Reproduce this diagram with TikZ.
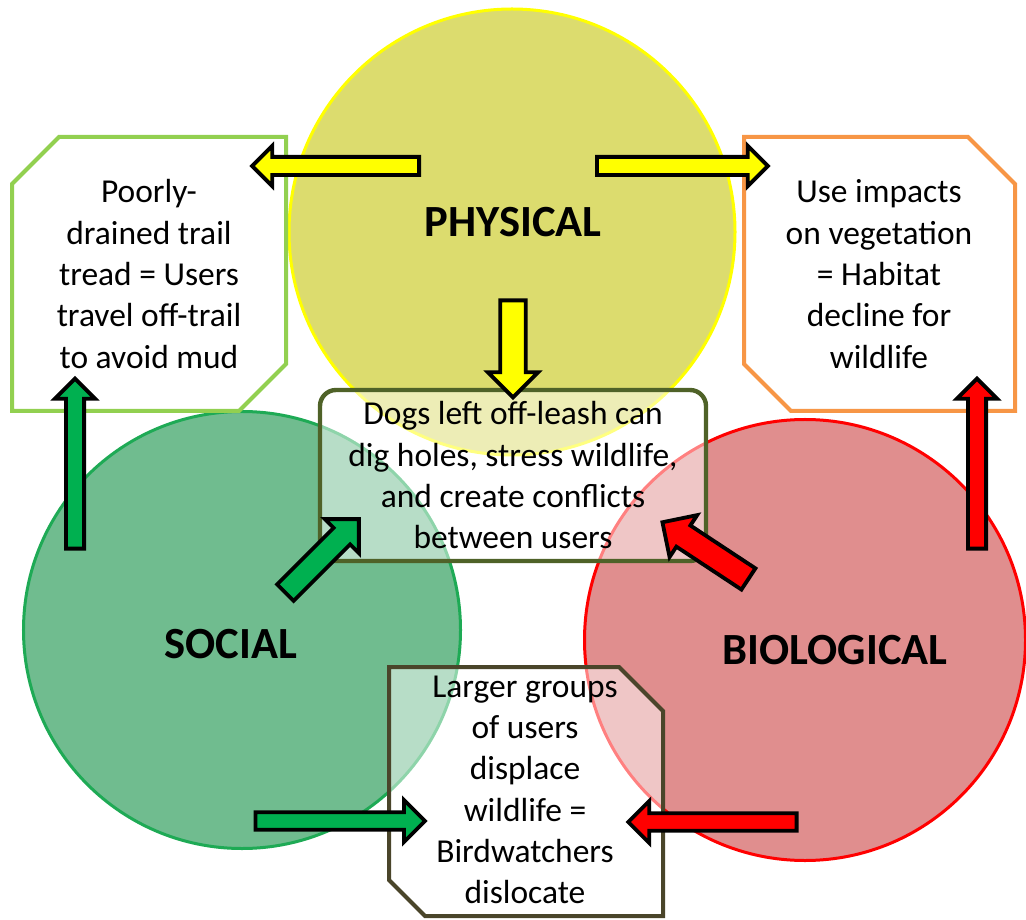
\documentclass[tikz,border=0pt]{standalone}
\usepackage{fontspec}
\setmainfont{Carlito}
\usetikzlibrary{shapes.arrows}

\definecolor{physfill}{RGB}{220,220,110}
\definecolor{physline}{RGB}{255,255,0}
\definecolor{socfill}{RGB}{112,188,143}
\definecolor{socline}{RGB}{30,170,85}
\definecolor{biofill}{RGB}{224,142,142}
\definecolor{bioline}{RGB}{255,0,0}
\definecolor{leftline}{RGB}{146,208,80}
\definecolor{rightline}{RGB}{247,150,70}
\definecolor{midline}{RGB}{79,98,40}
\definecolor{lowline}{RGB}{74,69,42}
\definecolor{yarrow}{RGB}{255,255,0}
\definecolor{garrow}{RGB}{0,176,80}
\definecolor{rarrow}{RGB}{255,0,0}

\tikzset{
  area/.style={circle, inner sep=0pt, line width=0.75mm},
  areatext/.style={font=\fontsize{31.7}{38}\selectfont\bfseries},
  bodytext/.style={align=center, font=\fontsize{23.8}{29.4}\selectfont},
  boxline/.style={line width=1mm},
  barrow/.style={single arrow, draw=black, line width=0.95mm, inner xsep=0pt,
    minimum width=0pt, single arrow tip angle=90, single arrow head indent=0pt, anchor=tail},
  thinarrow/.style={barrow, inner ysep=1.8mm, single arrow head extend=2.75mm},
  flatarrow/.style={barrow, inner ysep=1.7mm, single arrow head extend=3.1mm},
  widearrow/.style={barrow, inner ysep=2.7mm, single arrow head extend=3.1mm},
}

\begin{document}
\begin{tikzpicture}[x=0.25mm, y=-0.25mm]

      \path[use as bounding box, clip] (0,0) rectangle (1026,920);

      % Define the three circles
      \node[area, minimum size=111.5mm, fill=physfill, draw=physline] (physc) at (512,232) {};
      \node[area, minimum size=109.25mm, fill=socfill, draw=socline] (socc) at (242,630) {};
      \node[area, minimum size=110.25mm, fill=biofill, draw=bioline] (bioc) at (805,640) {};

      \node[areatext] (phys) at (513,222) {PHYSICAL};
      \node[areatext] (soc) at (231,644) {SOCIAL};
      \node[areatext] (bio) at (835,650) {BIOLOGICAL};

      % Define the boxes
      \draw[boxline, draw=leftline, fill=white] (59,137) -- (286,137) -- (286,364) -- (239,411)
        -- (12,411) -- (12,184) -- cycle;
      \node[bodytext] (poorly) at (149,274) {Poorly-\\drained trail\\tread = Users\\travel off-trail\\to avoid mud};

      \draw[boxline, draw=rightline, fill=white] (744,137) -- (968,137) -- (1015,184) -- (1015,411)
        -- (791,411) -- (744,364) -- cycle;
      \node[bodytext] (useimp) at (879,274) {Use impacts\\on vegetation\\= Habitat\\decline for\\wildlife};

      \node[bodytext, draw=midline, line width=1.1mm, rounded corners=4mm, fill=white,
        fill opacity=0.5, text opacity=1, minimum width=96.5mm, minimum height=42.75mm]
        (dogs) at (513,475.5) {Dogs left off-leash can\\dig holes, stress wildlife,\\and create conflicts\\between users};

      \draw[boxline, draw=lowline, fill=white, fill opacity=0.5] (389,667) -- (619,667) -- (663,711)
        -- (663,916) -- (425,916) -- (389,880) -- cycle;
      \node[bodytext] (larger) at (525,790) {Larger groups\\of users\\displace\\wildlife =\\Birdwatchers\\dislocate};

      % Draw the arrows
      \node[thinarrow, fill=yarrow, minimum height=41.75mm, rotate=180] (p2l) at (421,166) {};
      \node[thinarrow, fill=yarrow, minimum height=42.75mm] (p2r) at (595,166) {};
      \node[widearrow, fill=yarrow, minimum height=24.25mm, rotate=-90] (p2m) at (513,298.5) {};

      \node[thinarrow, fill=garrow, minimum height=42.5mm, rotate=90] (s2l) at (75,550.5) {};
      \node[thinarrow, fill=rarrow, minimum height=42.5mm, rotate=90] (b2r) at (977,550.5) {};

      \node[barrow, inner ysep=2.45mm, single arrow head extend=3.1mm, fill=garrow,
        minimum height=26mm, rotate=45] (s2m) at (284,594) {};
      \node[widearrow, fill=rarrow, minimum height=25.75mm, rotate=146.6] (b2m) at (750,580) {};

      \node[flatarrow, fill=garrow, minimum height=42.4mm] (s2b) at (253.5,821) {};
      \node[flatarrow, fill=rarrow, minimum height=42.1mm, rotate=180] (b2b) at (798.5,822) {};

\end{tikzpicture}
\end{document}
